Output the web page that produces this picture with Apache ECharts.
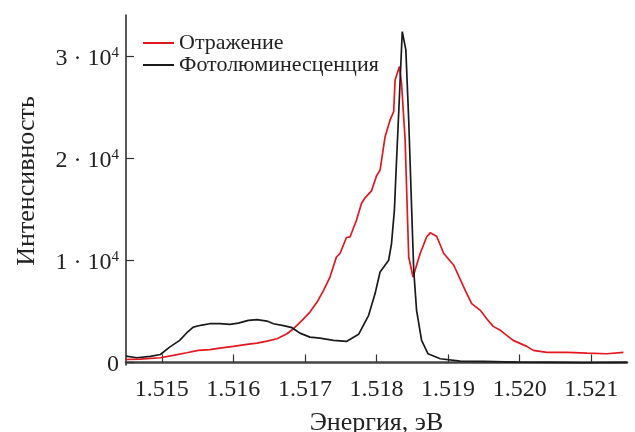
<!DOCTYPE html>
<html><head><meta charset="utf-8">
<script src="https://cdn.jsdelivr.net/npm/echarts@6/dist/echarts.min.js"></script>
<style>html,body{margin:0;padding:0;background:#fff}#c{width:635px;height:432px}</style>
</head><body><div id="c"></div>
<script>
const seriesNames = ['Отражение', 'Фотолюминесценция'];
const energyRefl = [1.51450,1.51470,1.51498,1.51516,1.51535,1.51551,1.51567,1.51581,1.51600,1.51619,1.51633,1.51647,1.51661,1.51675,1.51684,1.51696,1.51707,1.51717,1.51726,1.51735,1.51744,1.51749,1.51758,1.51763,1.51772,1.51779,1.51784,1.51793,1.51800,1.51805,1.51812,1.51819,1.51824,1.51826,1.51832,1.51835,1.51840,1.51845,1.51851,1.51861,1.51870,1.51875,1.51884,1.51894,1.51908,1.51924,1.51933,1.51945,1.51954,1.51963,1.51973,1.51991,1.52010,1.52019,1.52038,1.52066,1.52094,1.52122,1.52145];
const reflection = [290,320,460,690,950,1180,1250,1400,1570,1770,1890,2090,2320,2810,3300,4120,4930,5910,7060,8360,10320,10660,12230,12280,13920,15560,16110,16790,18240,18820,22090,23730,24540,27650,28950,27320,21770,10320,8360,10660,12280,12680,12350,10660,9510,7060,5760,5100,4280,3530,3140,2160,1570,1180,980,980,910,850,980];
const energyPL = [1.51450,1.51465,1.51484,1.51498,1.51511,1.51525,1.51535,1.51544,1.51556,1.51567,1.51581,1.51595,1.51607,1.51621,1.51633,1.51647,1.51656,1.51670,1.51682,1.51693,1.51707,1.51721,1.51740,1.51758,1.51775,1.51789,1.51798,1.51805,1.51817,1.51821,1.51825,1.51827,1.51831,1.51836,1.51841,1.51845,1.51849,1.51852,1.51856,1.51863,1.51872,1.51889,1.51917,1.51949,1.51996,1.52043,1.52089,1.52150];
const photolum = [620,460,590,780,1500,2160,2910,3460,3660,3790,3790,3730,3850,4120,4190,4050,3790,3600,3400,2870,2480,2380,2160,2060,2750,4610,6740,8850,10000,11640,14900,18170,24410,32380,30590,23730,15230,9020,5100,2160,850,360,130,100,30,0,-30,0];
const xTicks = [1.515,1.516,1.517,1.518,1.519,1.520,1.521];
const yTicks = [0,10000,20000,30000];
const yMantissa = ['0','1','2','3'];
const yExponent = '4';

const font = 'Liberation Serif';
const chart = echarts.init(document.getElementById('c'), null, {renderer: 'canvas'});
chart.setOption({
  animation: false,
  backgroundColor: '#fff',
  grid: {left: 126, right: 8, top: 15, bottom: 67, containLabel: false, outerBoundsMode: 'none'},
  legend: {
    orient: 'vertical', left: 138, top: 27, itemGap: 0,
    itemWidth: 31, itemHeight: 2, icon: 'rect',
    textStyle: {fontFamily: font, fontSize: 22, color: '#222', lineHeight: 21},
    data: seriesNames
  },
  xAxis: {
    type: 'value', min: 1.5145, max: 1.5215,
    name: 'Энергия, эВ', nameLocation: 'middle', nameGap: 45,
    nameTextStyle: {fontFamily: font, fontSize: 26, color: '#222'},
    splitLine: {show: false},
    axisLine: {show: true, lineStyle: {color: '#444', width: 2.5}},
    axisTick: {show: true, inside: true, length: 8, lineStyle: {color: '#333', width: 1.2}, customValues: xTicks},
    axisLabel: {customValues: xTicks, margin: 13, fontFamily: font, fontSize: 24, color: '#222',
      formatter: v => v.toFixed(3)}
  },
  yAxis: {
    type: 'value', min: -250, max: 34000,
    name: 'Интенсивность', nameLocation: 'middle', nameGap: 86,
    nameTextStyle: {fontFamily: font, fontSize: 26, color: '#222', padding: [0, 0, 0, 18]},
    splitLine: {show: false},
    axisLine: {show: true, lineStyle: {color: '#222', width: 1.5}},
    axisTick: {show: true, inside: true, length: 8, lineStyle: {color: '#333', width: 1.2}, customValues: yTicks},
    axisLabel: {customValues: yTicks, margin: 7, fontFamily: font, fontSize: 24, color: '#222',
      padding: [5, 0, 0, 0],
      formatter: v => {
        const i = yTicks.indexOf(v);
        const m = i >= 0 ? yMantissa[i] : String(v);
        return v === 0 ? '{a|' + m + '}' : '{a|' + m + ' · 10}{s|' + yExponent + '}';
      },
      rich: {
        a: {fontFamily: font, fontSize: 24, color: '#222', lineHeight: 26},
        s: {fontFamily: font, fontSize: 15, color: '#222', verticalAlign: 'top', lineHeight: 15}
      }
    }
  },
  series: [
    {name: seriesNames[0], type: 'line', showSymbol: false, symbol: 'none',
      data: energyRefl.map((x, i) => [x, reflection[i]]),
      itemStyle: {color: '#e3171f'}, lineStyle: {color: '#e3171f', width: 1.7}},
    {name: seriesNames[1], type: 'line', showSymbol: false, symbol: 'none',
      data: energyPL.map((x, i) => [x, photolum[i]]),
      itemStyle: {color: '#1a1a1a'}, lineStyle: {color: '#1a1a1a', width: 1.7}}
  ]
});
</script></body></html>
